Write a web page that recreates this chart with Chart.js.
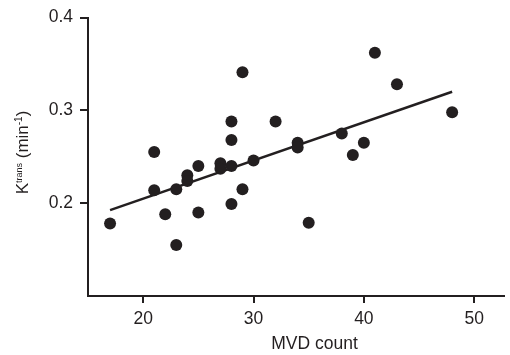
<!DOCTYPE html>
<html>
<head>
<meta charset="utf-8">
<script src="https://cdn.jsdelivr.net/npm/chart.js@4/dist/chart.umd.min.js"></script>
<style>
  html, body { margin: 0; padding: 0; background: #fff; }
  #chart { display: block; }
</style>
</head>
<body>
<canvas id="chart" width="510" height="355"></canvas>
<script>
// Data
const mvdCount = [17, 21, 21, 22, 23, 23, 24, 24, 25, 25, 27, 27, 28, 28, 28, 28, 29, 29, 30, 32, 34, 34, 35, 38, 39, 40, 41, 43, 48];
const ktrans = [0.178, 0.255, 0.214, 0.188, 0.215, 0.155, 0.230, 0.224, 0.240, 0.190, 0.243, 0.237, 0.288, 0.268, 0.240, 0.199, 0.341, 0.215, 0.246, 0.288, 0.265, 0.260, 0.179, 0.275, 0.252, 0.265, 0.362, 0.328, 0.298];

// Fitted line endpoints
const fitX = [17, 48];
const fitY = [0.1925, 0.320];

const xTicks = [20, 30, 40, 50];
const yTicks = [0.2, 0.3, 0.4];

const ink = '#231f20';
const fontFamily = '"Liberation Sans", Arial, Helvetica, sans-serif';

// Axis titles (with superscripts on the y title)
const axisTitles = {
  id: 'axisTitles',
  afterDraw(chart) {
    const ctx = chart.ctx;
    ctx.save();
    ctx.fillStyle = ink;
    ctx.textBaseline = 'alphabetic';
    ctx.textAlign = 'left';

    // x title
    ctx.font = '17.5px ' + fontFamily;
    const xt = 'MVD count';
    ctx.fillText(xt, 314.5 - ctx.measureText(xt).width / 2, 349);

    // y title: K^trans (min^-1)
    const parts = [
      { t: 'K', size: 17, rise: 0 },
      { t: 'trans', size: 9, rise: 6 },
      { t: ' (min', size: 17, rise: 0 },
      { t: '-1', size: 10, rise: 6 },
      { t: ')', size: 17, rise: 0 }
    ];
    let total = 0;
    parts.forEach(p => {
      ctx.font = p.size + 'px ' + fontFamily;
      p.w = ctx.measureText(p.t).width;
      total += p.w;
    });
    ctx.translate(28, 152.5);
    ctx.rotate(-Math.PI / 2);
    let x = -total / 2;
    parts.forEach(p => {
      ctx.font = p.size + 'px ' + fontFamily;
      ctx.fillText(p.t, x, -p.rise);
      x += p.w;
    });
    ctx.restore();
  }
};

new Chart(document.getElementById('chart').getContext('2d'), {
  type: 'scatter',
  data: {
    datasets: [
      {
        label: 'Ktrans',
        data: mvdCount.map((v, i) => ({ x: v, y: ktrans[i] })),
        pointRadius: 6,
        pointBackgroundColor: ink,
        pointBorderWidth: 0,
        order: 1
      },
      {
        type: 'line',
        label: 'Fit',
        data: fitX.map((v, i) => ({ x: v, y: fitY[i] })),
        borderColor: ink,
        borderWidth: 2.5,
        pointRadius: 0,
        fill: false,
        order: 2
      }
    ]
  },
  options: {
    responsive: false,
    devicePixelRatio: 1,
    animation: false,
    layout: { padding: { top: 17, right: 2, left: 0, bottom: 0 } },
    plugins: {
      legend: { display: false },
      tooltip: { enabled: false }
    },
    scales: {
      x: {
        type: 'linear',
        min: 15,
        max: 52.7,
        afterBuildTicks: (scale) => { scale.ticks = xTicks.map(v => ({ value: v })); },
        afterFit: (scale) => { scale.height = 59; },
        ticks: {
          color: ink,
          font: { family: fontFamily, size: 17.5 },
          padding: 6,
          maxRotation: 0
        },
        grid: {
          display: true,
          drawOnChartArea: false,
          drawTicks: true,
          tickLength: 7,
          color: ink,
          lineWidth: 2
        },
        border: { display: true, color: ink, width: 2 }
      },
      y: {
        type: 'linear',
        min: 0.1,
        max: 0.4,
        afterBuildTicks: (scale) => { scale.ticks = yTicks.map(v => ({ value: v })); },
        afterFit: (scale) => { scale.width = 88; },
        ticks: {
          color: ink,
          font: { family: fontFamily, size: 17.5 },
          padding: 7,
          callback: (v) => v.toFixed(1)
        },
        grid: {
          display: true,
          drawOnChartArea: false,
          drawTicks: true,
          tickLength: 8,
          color: ink,
          lineWidth: 2
        },
        border: { display: true, color: ink, width: 2 }
      }
    }
  },
  plugins: [axisTitles]
});
</script>
</body>
</html>
